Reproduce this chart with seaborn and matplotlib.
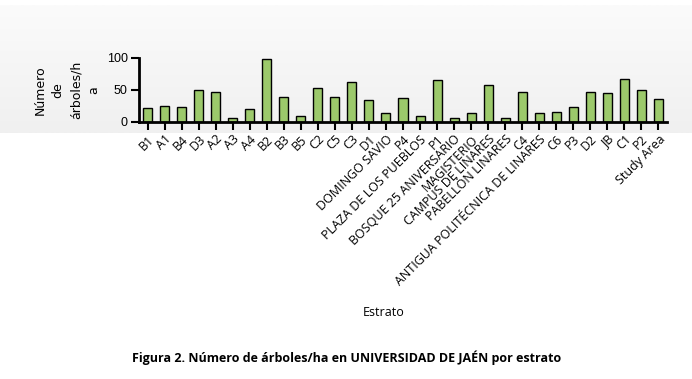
import numpy as np
import pandas as pd
import matplotlib
matplotlib.use("Agg")
import matplotlib.pyplot as plt
import seaborn as sns

categories = ["B1", "A1", "B4", "D3", "A2", "A3", "A4", "B2", "B3", "B5", "C2", "C5", "C3", "D1",
              "DOMINGO SAVIO", "P4", "PLAZA DE LOS PUEBLOS", "P1", "BOSQUE 25 ANIVERSARIO",
              "MAGISTERIO", "CAMPUS DE LINARES", "PABELLÓN LINARES", "C4",
              "ANTIGUA POLITÉCNICA DE LINARES", "C6", "P3", "D2", "JB", "C1", "P2", "Study Area"]
values = [21, 24, 22.5, 49, 46, 5.5, 19.5, 97.5, 38.5, 8.5, 52, 38.5, 62, 34,
          13.5, 37, 9, 65, 5.5, 13.5, 57.5, 5.5, 46.5, 13.5, 15, 23, 46.5, 45, 67, 49.5, 35.5]
y_ticks = [0, 50, 100]

sns.set_theme(style="white")
plt.rcParams["font.family"] = ["Open Sans", "DejaVu Sans"]
plt.rcParams["text.color"] = "black"
plt.rcParams["xtick.color"] = "black"
plt.rcParams["ytick.color"] = "black"

fig = plt.figure(figsize=(6.92, 3.79), dpi=100)
fig.patch.set_facecolor("white")

# gray gradient band behind the plot
bg = fig.add_axes([0, 1 - 133 / 379, 1, (133 - 5) / 379], zorder=-10)
grad = np.linspace(0, 1, 100).reshape(-1, 1)
bg.imshow(grad, aspect="auto", cmap=matplotlib.colors.LinearSegmentedColormap.from_list(
    "g", ["#fbfbfb", "#f0f0f0"]), extent=[0, 1, 0, 1], origin="upper")
bg.set_axis_off()

ax = fig.add_axes([139 / 692, 1 - 121.7 / 379, (667 - 139) / 692, 64 / 379])
ax.patch.set_alpha(0)
df = pd.DataFrame({"cat": categories, "val": values})
sns.barplot(data=df, x="cat", y="val", color="#9cc96b", saturation=1, width=0.53,
            edgecolor="black", linewidth=1.0, ax=ax)
ax.set_xlim(-0.5, len(categories) - 0.5)
ax.set_ylim(0, 100)
ax.set_yticks(y_ticks)
ax.set_yticklabels([str(v) for v in y_ticks], fontsize=9, family=["Liberation Sans"], color="black")
for s in ["top", "right"]:
    ax.spines[s].set_visible(False)
for s in ["left", "bottom"]:
    ax.spines[s].set_color("black")
    ax.spines[s].set_linewidth(2)
ax.tick_params(axis="y", length=6, width=1.5, color="black", pad=2, left=True)
ax.tick_params(axis="x", length=6, width=1.5, color="black", pad=2, bottom=True)
ax.set_xticks(range(len(categories)))
ax.set_xticklabels(categories, rotation=45, ha="right", rotation_mode="anchor",
                   fontsize=9, color="black")
ax.set_xlabel("")
ax.set_ylabel("")

fig.text(67 / 692, 1 - 90 / 379, "Número\nde\nárboles/h\na", rotation=90, ha="center",
         va="center", fontsize=9, family=["DejaVu Sans"], linespacing=1.5,
         multialignment="center", color="black")
fig.text(384 / 692, 1 - 312 / 379, "Estrato", ha="center", va="center", fontsize=9, color="black")
fig.text(347 / 692, 1 - 358 / 379, "Figura 2. Número de árboles/ha en UNIVERSIDAD DE JAÉN por estrato",
         ha="center", va="center", fontsize=9, fontweight="bold", color="black")

fig.savefig("out.png", dpi=100)
